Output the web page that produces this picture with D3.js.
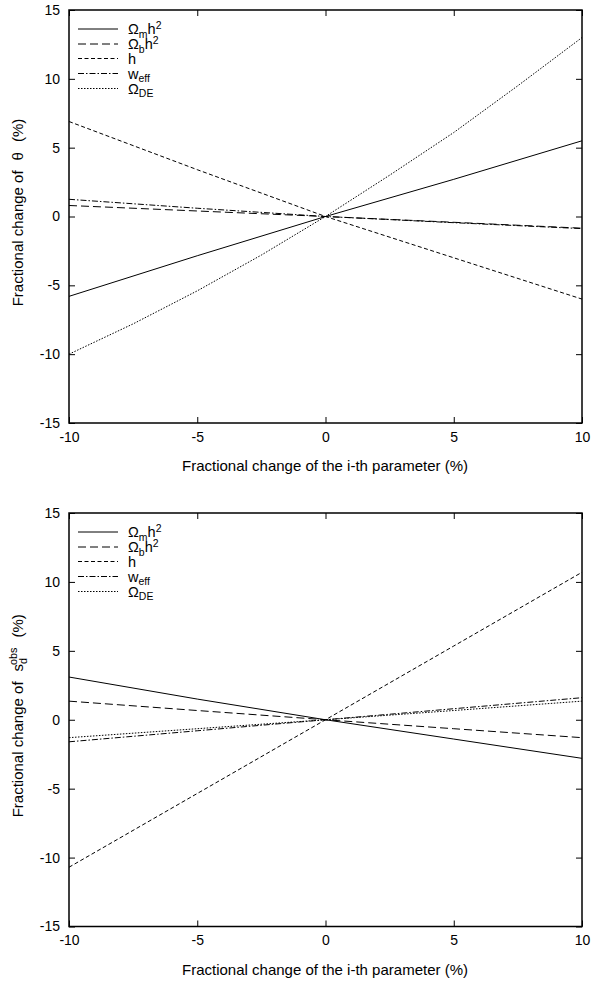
<!DOCTYPE html>
<html><head><meta charset="utf-8">
<script src="https://cdn.jsdelivr.net/npm/d3@7"></script>
<style>body{margin:0;background:#fff;} svg{display:block;font-family:"Liberation Sans",Arial,sans-serif;}</style>
</head><body>
<svg id="c" width="595" height="987"></svg>
<script>
const xs = [-10, -5, 0, 5, 10];
const xsFine = [-10, -7.5, -5, -2.5, 0, 2.5, 5, 7.5, 10];
const xTicks = [-10, -5, 0, 5, 10];
const yTicks = [-15, -10, -5, 0, 5, 10, 15];
const seriesNames = ["Ωm h2", "Ωb h2", "h", "weff", "ΩDE"];
// Top panel: fractional change of theta
const thetaOmh2 = [-5.8, -2.85, 0, 2.7, 5.5];
const thetaObh2 = [0.8, 0.4, 0, -0.42, -0.85];
const thetaH = [6.9, 3.4, 0, -3.0, -6.0];
const thetaWeff = [1.25, 0.6, 0, -0.45, -0.88];
const thetaODE = [-10.0, -7.8, -5.4, -2.8, 0, 3.0, 6.1, 9.5, 13.0];
// Bottom panel: fractional change of s_d^obs
const sdOmh2 = [3.1, 1.5, 0, -1.4, -2.8];
const sdObh2 = [1.35, 0.67, 0, -0.65, -1.3];
const sdH = [-10.7, -5.35, 0, 5.35, 10.7];
const sdWeff = [-1.6, -0.8, 0, 0.8, 1.6];
const sdODE = [-1.3, -0.65, 0, 0.67, 1.35];

const dashes = ["none", "8,4", "4,2.5", "6,2,1.5,2", "1.5,1.5"];
const svg = d3.select("#c");

// rich text: parts [text, kind, dx]; tracks baseline offset
function rich(t, parts, base, subOff, supOff) {
  let off = 0;
  parts.forEach(([s, k, dx]) => {
    let target = 0, fs = base;
    if (k === "sub") { target = subOff; fs = base * 0.72; }
    if (k === "sup") { target = supOff; fs = base * 0.72; }
    const ts = t.append("tspan").text(s).attr("font-size", fs).attr("dy", target - off);
    if (dx) ts.attr("dx", dx);
    off = target;
  });
}

function panel(top, bottom, data, ylabelParts) {
  const x = d3.scaleLinear().domain([-10, 10]).range([69, 582]);
  const y = d3.scaleLinear().domain([-15, 15]).range([bottom, top]);
  const g = svg.append("g");
  const tl = 6;
  const fmt = d => String(d);
  g.append("g").attr("transform", `translate(0,${bottom})`)
    .call(d3.axisBottom(x).tickValues(xTicks).tickSize(-tl).tickPadding(9).tickFormat(fmt))
    .call(a => a.select(".domain").remove());
  g.append("g").attr("transform", `translate(0,${top})`)
    .call(d3.axisTop(x).tickValues(xTicks).tickSize(-tl).tickFormat(""))
    .call(a => a.select(".domain").remove());
  g.append("g").attr("transform", `translate(69,0)`)
    .call(d3.axisLeft(y).tickValues(yTicks).tickSize(-tl).tickPadding(9).tickFormat(fmt))
    .call(a => a.select(".domain").remove());
  g.append("g").attr("transform", `translate(582,0)`)
    .call(d3.axisRight(y).tickValues(yTicks).tickSize(-tl).tickFormat(""))
    .call(a => a.select(".domain").remove());
  g.selectAll(".tick line").attr("stroke", "#000").attr("stroke-width", 1);
  g.selectAll(".tick text").attr("font-size", 14).attr("fill", "#000").attr("font-family", "Liberation Sans, Arial, sans-serif");
  g.append("rect").attr("x", 69).attr("y", top).attr("width", 513).attr("height", bottom - top)
    .attr("fill", "none").attr("stroke", "#000").attr("stroke-width", 1.5);

  const line = d3.line().x(d => x(d[0])).y(d => y(d[1]));
  data.forEach((vals, i) => {
    const xv = vals.length === xsFine.length ? xsFine : xs;
    g.append("path").datum(xv.map((v, j) => [v, vals[j]]))
      .attr("d", line).attr("fill", "none").attr("stroke", "#000").attr("stroke-width", 1)
      .attr("stroke-dasharray", dashes[i]);
  });

  // legend
  const ly = [top + 19, top + 34, top + 48.5, top + 63.5, top + 78.5];
  const labels = [
    [["Ω", ""], ["m", "sub"], ["h", ""], ["2", "sup"]],
    [["Ω", ""], ["b", "sub"], ["h", ""], ["2", "sup"]],
    [["h", ""]],
    [["w", ""], ["eff", "sub"]],
    [["Ω", ""], ["DE", "sub"]]
  ];
  labels.forEach((parts, i) => {
    g.append("line").attr("x1", 78).attr("x2", 118).attr("y1", ly[i]).attr("y2", ly[i])
      .attr("stroke", "#000").attr("stroke-width", 1).attr("stroke-dasharray", dashes[i]);
    const t = g.append("text").attr("x", 128).attr("y", ly[i] + 5).attr("fill", "#000");
    rich(t, parts, 14.5, 3.5, -5.5);
  });

  // x title
  g.append("text").attr("x", 325).attr("y", bottom + 48).attr("text-anchor", "middle")
    .attr("font-size", 15).attr("fill", "#000").text("Fractional change of the i-th parameter (%)");
  // y title
  const yt = g.append("text").attr("transform", `translate(23,${(top + bottom) / 2 - 4}) rotate(-90)`)
    .attr("text-anchor", "middle").attr("fill", "#000");
  rich(yt, ylabelParts, 15, 4, -6);
}

panel(10, 423, [thetaOmh2, thetaObh2, thetaH, thetaWeff, thetaODE],
  [["Fractional change of", ""], ["θ", "", 10], ["(%)", "", 10]]);
panel(513, 926.5, [sdOmh2, sdObh2, sdH, sdWeff, sdODE],
  [["Fractional change of", ""], ["s", "", 10], ["d", "sub"], ["obs", "sup", -7], ["(%)", "", 10]]);
</script>
</body></html>
